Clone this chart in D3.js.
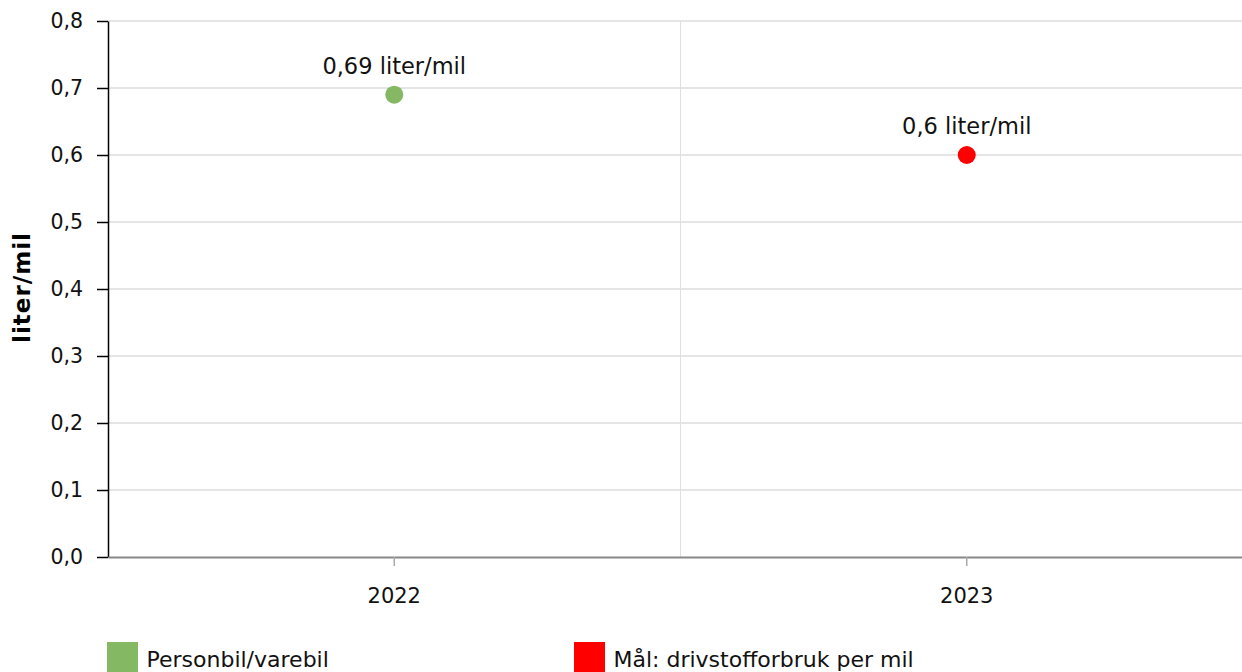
<!DOCTYPE html>
<html>
<head>
<meta charset="utf-8">
<script src="https://cdn.jsdelivr.net/npm/d3@7"></script>
<style>
html,body{margin:0;padding:0;background:#fff;}
svg{display:block;font-family:"DejaVu Sans",Verdana,sans-serif;}
</style>
</head>
<body>
<svg id="chart" width="1242" height="672"></svg>
<script>
const categories = ["2022", "2023"];
const seriesNames = ["Personbil/varebil", "Mål: drivstofforbruk per mil"];
const seriesColors = ["#84b862", "#ff0000"];
const seriesValues = [0.69, 0.6];
const seriesCategory = ["2022", "2023"];
const pointLabels = ["0,69 liter/mil", "0,6 liter/mil"];
const yTicks = [0, 0.1, 0.2, 0.3, 0.4, 0.5, 0.6, 0.7, 0.8];
const yTitle = "liter/mil";

(function () {
const svg = d3.select("#chart");
const W = 1242, H = 672;
const mLeft = 108, mRight = 1253, mTop = 21, mBottom = 557;

const x = d3.scaleBand().domain(categories).range([mLeft, mRight]);
const y = d3.scaleLinear().domain([0, 0.8]).range([mBottom, mTop]);
const fmt = d => d3.format(".1f")(d).replace(".", ",");

// horizontal gridlines
svg.append("g").selectAll("line").data(yTicks.filter(d => d > 0)).join("line")
  .attr("x1", mLeft).attr("x2", W)
  .attr("y1", d => y(d)).attr("y2", d => y(d))
  .attr("stroke", "#dcdcdc").attr("stroke-width", 1.5);

// vertical gridlines at band boundaries
svg.append("g").selectAll("line").data(categories.slice(1)).join("line")
  .attr("x1", d => x(d)).attr("x2", d => x(d))
  .attr("y1", mTop).attr("y2", mBottom)
  .attr("stroke", "#e0e0e0").attr("stroke-width", 1);

// y axis
const yAxis = svg.append("g").attr("transform", `translate(${mLeft},0)`)
  .call(d3.axisLeft(y).tickValues(yTicks).tickFormat(fmt).tickSize(11).tickSizeOuter(0).tickPadding(14));
yAxis.select(".domain").attr("stroke", "#000").attr("stroke-width", 1.5);
yAxis.selectAll(".tick line").attr("stroke", "#000").attr("stroke-width", 1.5);
yAxis.selectAll(".tick text").attr("font-size", 20.5).attr("fill", "#111")
  .attr("font-family", "DejaVu Sans");

// x axis
const xAxis = svg.append("g").attr("transform", `translate(0,${mBottom})`)
  .call(d3.axisBottom(x).tickSize(9).tickSizeOuter(0).tickPadding(22));
xAxis.select(".domain").attr("stroke", "#888").attr("stroke-width", 2);
xAxis.selectAll(".tick line").attr("stroke", "#aaa").attr("stroke-width", 1.5);
xAxis.selectAll(".tick text").attr("font-size", 21).attr("fill", "#111")
  .attr("font-family", "DejaVu Sans");

// y title
svg.append("text")
  .attr("transform", `translate(30,288) rotate(-90)`)
  .attr("text-anchor", "middle")
  .attr("font-size", 23).attr("font-weight", "bold").attr("fill", "#000")
  .attr("textLength", 110).attr("lengthAdjust", "spacing")
  .text(yTitle);

// points
const pts = seriesValues.map((v, i) => ({v, c: seriesCategory[i], color: seriesColors[i], label: pointLabels[i]}));
svg.append("g").selectAll("circle").data(pts).join("circle")
  .attr("cx", d => x(d.c) + x.bandwidth() / 2)
  .attr("cy", d => y(d.v))
  .attr("r", 9)
  .attr("fill", d => d.color);
svg.append("g").selectAll("text").data(pts).join("text")
  .attr("x", d => x(d.c) + x.bandwidth() / 2)
  .attr("y", d => y(d.v) - 21)
  .attr("text-anchor", "middle")
  .attr("font-size", 22.5).attr("fill", "#111")
  .text(d => d.label);

// legend
const legX = [107, 574];
const leg = svg.append("g").selectAll("g").data(seriesNames).join("g")
  .attr("transform", (d, i) => `translate(${legX[i]},642)`);
leg.append("rect").attr("width", 31).attr("height", 30)
  .attr("fill", (d, i) => seriesColors[i]);
leg.append("text").attr("x", 39.5).attr("y", 24.5)
  .attr("font-size", 22).attr("fill", "#111")
  .text(d => d);
})();
</script>
</body>
</html>
